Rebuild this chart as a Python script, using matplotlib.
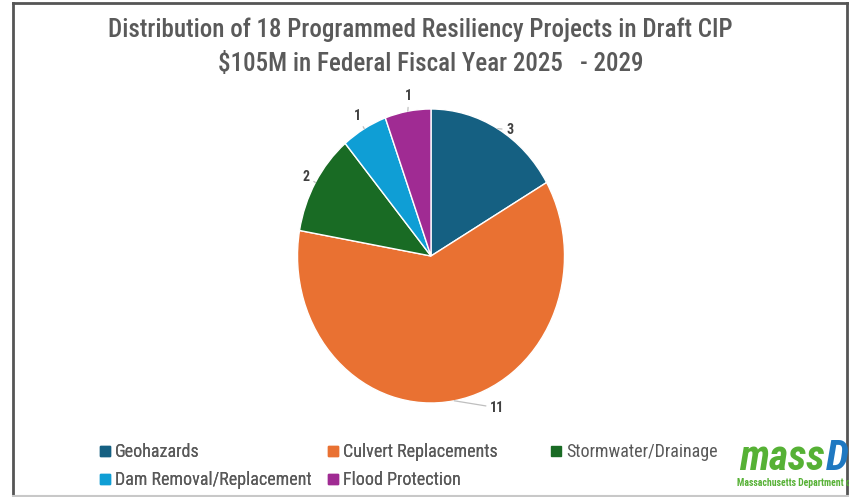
import numpy as np
import matplotlib
matplotlib.use('Agg')
import matplotlib.pyplot as plt
from matplotlib.lines import Line2D
from matplotlib import font_manager

# ---- data ----
categories = ['Geohazards', 'Culvert Replacements', 'Stormwater/Drainage',
              'Dam Removal/Replacement', 'Flood Protection']
counts = [3, 11, 2, 1, 1]
colors = ['#156082', '#E97132', '#196B24', '#0F9ED5', '#A02B93']
title_lines = ['Distribution of 18 Programmed Resiliency Projects in Draft CIP',
               r'\$105M in Federal Fiscal Year 2025   - 2029']

# ---- fonts ----
names = {f.name for f in font_manager.fontManager.ttflist}
narrow = 'DejaVu Sans'
for cand in ['Liberation Sans Narrow', 'Roboto Condensed', 'Open Sans Condensed', 'Liberation Sans', 'Roboto']:
    if cand in names:
        narrow = cand
        break
plt.rcParams['font.family'] = [narrow, 'DejaVu Sans']

W, H = 849, 497
fig = plt.figure(figsize=(W / 100, H / 100), dpi=100)

def fx(x):
    return x / W

def fy(y):
    return 1 - y / H

# pie axes: ellipse center (431,256), rx 133.5, ry 147
cx, cy, rx, ry = 431, 256, 133.5, 147
lim = 1.2
ax = fig.add_axes([fx(cx - rx * lim), fy(cy + ry * lim), 2 * rx * lim / W, 2 * ry * lim / H])
wedges, _ = ax.pie(counts, colors=colors, startangle=90, counterclock=False,
                   wedgeprops=dict(edgecolor='white', linewidth=1.0))
ax.set_aspect('auto')
ax.set_xlim(-lim, lim)
ax.set_ylim(-lim, lim)
ax.axis('off')

# data labels
label_offsets = [(12, -1), (43, -7), (-9, 6), (-7, 13), (1, 15)]
for w, n, off in zip(wedges, counts, label_offsets):
    ang = np.deg2rad((w.theta1 + w.theta2) / 2)
    xy = (np.cos(ang), np.sin(ang))
    ax.annotate(str(n), xy=xy, xytext=off, textcoords='offset pixels',
                ha='center', va='center', fontsize=10, fontweight='bold', color='#404040',
                arrowprops=dict(arrowstyle='-', color='#BFBFBF', lw=0.9, shrinkA=1, shrinkB=0),
                annotation_clip=False)

# title
fig.text(fx(420), fy(37), title_lines[0], ha='center', va='baseline', fontsize=18,
         fontweight='medium', color='#5A5A5A')
fig.text(fx(431), fy(71), title_lines[1], ha='center', va='baseline', fontsize=18,
         fontweight='medium', color='#5A5A5A')

# legend (three columns, row-major)
def handle(c):
    return Line2D([], [], marker='s', linestyle='none', markersize=6.5,
                  markerfacecolor=c, markeredgecolor=c)

col_groups = [[0, 3], [1, 4], [2]]
col_x = [100, 328, 551]
for gi, (grp, x0) in enumerate(zip(col_groups, col_x)):
    leg = fig.legend([handle(colors[i]) for i in grp], [categories[i] for i in grp],
                     loc='upper left', bbox_to_anchor=(fx(x0), fy(443)),
                     frameon=False, fontsize=13, labelcolor='#595959',
                     handlelength=0.6, handletextpad=0.25, labelspacing=0.55,
                     borderpad=0, borderaxespad=0)
    if gi < len(col_groups) - 1:
        fig.add_artist(leg)

# logo
fig.text(fx(739), fy(470), 'mass', ha='left', va='baseline', fontsize=30,
         fontweight='bold', fontstyle='italic', color='#56B135')
fig.text(fx(826), fy(470), 'D', ha='left', va='baseline', fontsize=30,
         fontweight='bold', fontstyle='italic', color='#1F78C1')
fig.text(fx(737), fy(486), 'Massachusetts Department of Transportation', ha='left', va='baseline',
         fontsize=7, fontweight='bold', color='#56B135')

# border
fig.add_artist(Line2D([fx(13), fx(13)], [fy(3), fy(496)], color='#555555', lw=2))
fig.add_artist(Line2D([fx(13), fx(847)], [fy(3), fy(3)], color='#555555', lw=2))
fig.add_artist(Line2D([fx(847), fx(847)], [fy(3), fy(496)], color='#555555', lw=2))
fig.add_artist(Line2D([fx(13), fx(849)], [fy(496), fy(496)], color='#C8C8C8', lw=1.5))

fig.savefig('out.png', dpi=100)
